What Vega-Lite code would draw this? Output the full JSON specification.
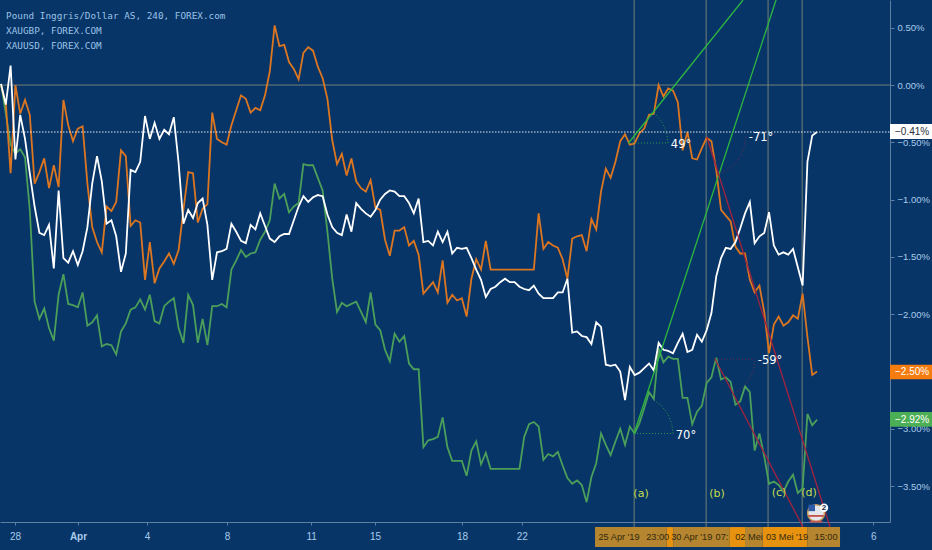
{"$schema":"https://vega.github.io/schema/vega-lite/v6.json","width":890,"height":522,"autosize":"none","padding":{"left":0,"top":0,"right":42,"bottom":28},"background":"#073568","view":{"stroke":null,"fill":"#073568"},
"encoding":{"x":{"field":"i","type":"quantitative","scale":{"domain":[-0.21,185.2],"nice":false,"zero":false},"axis":{"title":null,"grid":false,"orient":"bottom","values":[2.92,16.04,30.4,47.1,64.6,77.9,96.04,108.5,181.7],"labelExpr":"{'2.92':'28','16.04':'Apr','30.4':'4','47.1':'8','64.6':'11','77.9':'15','96.04':'18','108.5':'22','181.7':'6'}[''+datum.value]","labelColor":"#a9cbea","labelFontSize":10,"labelFont":"Liberation Sans","labelFontWeight":{"condition":{"test":"datum.value==16.04","value":"bold"},"value":"normal"},"labelPadding":6,"tickSize":3,"tickColor":"#5d7fa3","domainColor":"#5d7fa3","labelFlush":false,"labelOverlap":false,"labelBound":false}},
"y":{"field":"v","type":"quantitative","scale":{"domain":[-3.813,0.742],"nice":false,"zero":false},"axis":{"title":null,"grid":false,"orient":"right","values":[0.5,0,-0.5,-1,-1.5,-2,-2.5,-3,-3.5],"labelExpr":"replace(format(datum.value,'.2f'),'-','−')+'%'","labelColor":"#a9cbea","labelFontSize":9.5,"labelFont":"Liberation Sans","labelPadding":3,"tickSize":4,"tickColor":"#5d7fa3","domainColor":"#5d7fa3","labelOverlap":false,"labelBound":false}}},
"layer":[
{"data":{"values":[{"k":"a","i":131.9,"v":0.742},{"k":"a","i":131.9,"v":-3.857},{"k":"b","i":146.9,"v":0.742},{"k":"b","i":146.9,"v":-3.857},{"k":"c","i":159.8,"v":0.742},{"k":"c","i":159.8,"v":-3.857},{"k":"d","i":166.9,"v":0.742},{"k":"d","i":166.9,"v":-3.857},{"k":"zero","i":-0.21,"v":0},{"k":"zero","i":185.2,"v":0}]},"mark":{"type":"line","stroke":"#7f8a78","strokeWidth":0.9},"encoding":{"detail":{"field":"k"}}},
{"data":{"values":[
{"i":0,"white":0.01,"orange":0,"green":0.01},{"i":1,"white":-0.17,"orange":-0.16,"green":-0.25},{"i":2,"white":0.17,"orange":-0.77,"green":-0.52},{"i":3,"white":-0.65,"orange":0,"green":-0.6},{"i":4,"white":-0.26,"orange":-0.25,"green":-0.56},{"i":5,"white":-0.47,"orange":-0.13,"green":-0.63},{"i":6,"white":-0.77,"orange":-0.26,"green":-1.09},{"i":7,"white":-1.06,"orange":-0.86,"green":-1.89},{"i":8,"white":-1.29,"orange":-0.76,"green":-2.04},{"i":9,"white":-1.31,"orange":-0.64,"green":-1.95},
{"i":10,"white":-1.22,"orange":-0.9,"green":-2.12},{"i":11,"white":-1.6,"orange":-0.7,"green":-2.23},{"i":12,"white":-0.92,"orange":-0.89,"green":-1.83},{"i":13,"white":-1.51,"orange":-0.13,"green":-1.65},{"i":14,"white":-1.55,"orange":-0.35,"green":-1.91},{"i":15,"white":-1.45,"orange":-0.49,"green":-1.92},{"i":16,"white":-1.57,"orange":-0.38,"green":-1.94},{"i":17,"white":-1.45,"orange":-0.36,"green":-1.81},{"i":18,"white":-1.24,"orange":-0.86,"green":-2.1},{"i":19,"white":-0.86,"orange":-1.24,"green":-2.07},
{"i":20,"white":-0.62,"orange":-1.37,"green":-2.01},{"i":21,"white":-0.84,"orange":-1.46,"green":-2.28},{"i":22,"white":-1.21,"orange":-1.06,"green":-2.26},{"i":23,"white":-1.18,"orange":-1.1,"green":-2.27},{"i":24,"white":-1.32,"orange":-1.02,"green":-2.35},{"i":25,"white":-1.63,"orange":-0.57,"green":-2.15},{"i":26,"white":-1.47,"orange":-0.62,"green":-2.08},{"i":27,"white":-0.74,"orange":-1.23,"green":-1.96},{"i":28,"white":-0.76,"orange":-1.18,"green":-1.94},{"i":29,"white":-0.67,"orange":-1.2,"green":-1.87},
{"i":30,"white":-0.27,"orange":-1.7,"green":-1.96},{"i":31,"white":-0.47,"orange":-1.37,"green":-1.83},{"i":32,"white":-0.33,"orange":-1.73,"green":-2.06},{"i":33,"white":-0.47,"orange":-1.6,"green":-2.08},{"i":34,"white":-0.39,"orange":-1.54,"green":-1.93},{"i":35,"white":-0.43,"orange":-1.47,"green":-1.89},{"i":36,"white":-0.28,"orange":-1.56,"green":-1.86},{"i":37,"white":-0.68,"orange":-1.44,"green":-2.12},{"i":38,"white":-1.21,"orange":-1.09,"green":-2.25},{"i":39,"white":-1.09,"orange":-0.76,"green":-1.83},
{"i":40,"white":-1.16,"orange":-0.77,"green":-1.92},{"i":41,"white":-1.03,"orange":-1.2,"green":-2.25},{"i":42,"white":-0.99,"orange":-1.08,"green":-2.04},{"i":43,"white":-1.22,"orange":-1.04,"green":-2.27},{"i":44,"white":-1.7,"orange":-0.24,"green":-1.93},{"i":45,"white":-1.46,"orange":-0.47,"green":-1.93},{"i":46,"white":-1.45,"orange":-0.5,"green":-1.91},{"i":47,"white":-1.43,"orange":-0.52,"green":-1.94},{"i":48,"white":-1.21,"orange":-0.35,"green":-1.61},{"i":49,"white":-1.28,"orange":-0.22,"green":-1.53},
{"i":50,"white":-1.36,"orange":-0.09,"green":-1.44},{"i":51,"white":-1.38,"orange":-0.12,"green":-1.5},{"i":52,"white":-1.22,"orange":-0.24,"green":-1.47},{"i":53,"white":-1.26,"orange":-0.2,"green":-1.46},{"i":54,"white":-1.12,"orange":-0.22,"green":-1.35},{"i":55,"white":-1.23,"orange":-0.09,"green":-1.28},{"i":56,"white":-1.34,"orange":0.12,"green":-1.18},{"i":57,"white":-1.37,"orange":0.52,"green":-0.86},{"i":58,"white":-1.32,"orange":0.34,"green":-0.99},{"i":59,"white":-1.3,"orange":0.35,"green":-0.95},
{"i":60,"white":-1.3,"orange":0.2,"green":-1.11},{"i":61,"white":-1.18,"orange":0.14,"green":-1.06},{"i":62,"white":-1.06,"orange":0.05,"green":-1.03},{"i":63,"white":-0.97,"orange":0.28,"green":-0.69},{"i":64,"white":-1.02,"orange":0.33,"green":-0.7},{"i":65,"white":-0.98,"orange":0.3,"green":-0.7},{"i":66,"white":-0.96,"orange":0.16,"green":-0.81},{"i":67,"white":-0.97,"orange":0.06,"green":-0.92},{"i":68,"white":-1.13,"orange":-0.12,"green":-1.28},{"i":69,"white":-1.24,"orange":-0.48,"green":-1.69},
{"i":70,"white":-1.29,"orange":-0.69,"green":-1.98},{"i":71,"white":-1.31,"orange":-0.6,"green":-1.9},{"i":72,"white":-1.13,"orange":-0.79,"green":-1.93},{"i":73,"white":-1.28,"orange":-0.64,"green":-1.91},{"i":74,"white":-1.03,"orange":-0.84,"green":-1.89},{"i":75,"white":-1.08,"orange":-0.9,"green":-1.98},{"i":76,"white":-1.12,"orange":-0.93,"green":-2.07},{"i":77,"white":-1.15,"orange":-0.83,"green":-1.81},{"i":78,"white":-1.09,"orange":-1.07,"green":-2.09},{"i":79,"white":-1,"orange":-1.09,"green":-2.14},
{"i":80,"white":-0.95,"orange":-1.35,"green":-2.31},{"i":81,"white":-0.92,"orange":-1.49,"green":-2.41},{"i":82,"white":-0.93,"orange":-1.27,"green":-2.17},{"i":83,"white":-0.97,"orange":-1.27,"green":-2.24},{"i":84,"white":-0.97,"orange":-1.24,"green":-2.19},{"i":85,"white":-1.03,"orange":-1.4,"green":-2.43},{"i":86,"white":-1.12,"orange":-1.36,"green":-2.48},{"i":87,"white":-0.99,"orange":-1.48,"green":-2.48},{"i":88,"white":-1.37,"orange":-1.82,"green":-3.16},{"i":89,"white":-1.36,"orange":-1.77,"green":-3.1},
{"i":90,"white":-1.4,"orange":-1.72,"green":-3.09},{"i":91,"white":-1.28,"orange":-1.81,"green":-3.07},{"i":92,"white":-1.37,"orange":-1.53,"green":-2.9},{"i":93,"white":-1.28,"orange":-1.9,"green":-3.16},{"i":94,"white":-1.47,"orange":-1.83,"green":-3.28},{"i":95,"white":-1.42,"orange":-1.88,"green":-3.28},{"i":96,"white":-1.43,"orange":-1.86,"green":-3.28},{"i":97,"white":-1.42,"orange":-2.02,"green":-3.41},{"i":98,"white":-1.51,"orange":-1.69,"green":-3.19},{"i":99,"white":-1.61,"orange":-1.52,"green":-3.11},
{"i":100,"white":-1.7,"orange":-1.61,"green":-3.31},{"i":101,"white":-1.85,"orange":-1.36,"green":-3.21},{"i":102,"white":-1.78,"orange":-1.61,"green":-3.35},{"i":103,"white":-1.76,"orange":-1.61,"green":-3.35},{"i":104,"white":-1.72,"orange":-1.61,"green":-3.35},{"i":105,"white":-1.69,"orange":-1.61,"green":-3.35},{"i":106,"white":-1.72,"orange":-1.61,"green":-3.35},{"i":107,"white":-1.72,"orange":-1.61,"green":-3.35},{"i":108,"white":-1.76,"orange":-1.61,"green":-3.35},{"i":109,"white":-1.78,"orange":-1.61,"green":-3.07},
{"i":110,"white":-1.79,"orange":-1.61,"green":-2.96},{"i":111,"white":-1.75,"orange":-1.61,"green":-2.94},{"i":112,"white":-1.82,"orange":-1.12,"green":-2.98},{"i":113,"white":-1.86,"orange":-1.43,"green":-3.27},{"i":114,"white":-1.86,"orange":-1.37,"green":-3.22},{"i":115,"white":-1.86,"orange":-1.4,"green":-3.24},{"i":116,"white":-1.81,"orange":-1.42,"green":-3.2},{"i":117,"white":-1.81,"orange":-1.52,"green":-3.32},{"i":118,"white":-1.69,"orange":-1.69,"green":-3.43},{"i":119,"white":-2.16,"orange":-1.34,"green":-3.48},
{"i":120,"white":-2.15,"orange":-1.32,"green":-3.45},{"i":121,"white":-2.19,"orange":-1.31,"green":-3.49},{"i":122,"white":-2.2,"orange":-1.45,"green":-3.64},{"i":123,"white":-2.26,"orange":-1.17,"green":-3.42},{"i":124,"white":-2.07,"orange":-1.26,"green":-3.3},{"i":125,"white":-2.11,"orange":-0.93,"green":-3.04},{"i":126,"white":-2.44,"orange":-0.73,"green":-3.14},{"i":127,"white":-2.45,"orange":-0.81,"green":-3.23},{"i":128,"white":-2.44,"orange":-0.67,"green":-3.11},{"i":129,"white":-2.5,"orange":-0.49,"green":-3},
{"i":130,"white":-2.75,"orange":-0.43,"green":-3.14},{"i":131,"white":-2.46,"orange":-0.52,"green":-2.98},{"i":132,"white":-2.53,"orange":-0.51,"green":-3.04},{"i":133,"white":-2.51,"orange":-0.42,"green":-2.95},{"i":134,"white":-2.47,"orange":-0.38,"green":-2.82},{"i":135,"white":-2.43,"orange":-0.26,"green":-2.68},{"i":136,"white":-2.49,"orange":-0.25,"green":-2.74},{"i":137,"white":-2.25,"orange":0,"green":-2.3},{"i":138,"white":-2.31,"orange":-0.1,"green":-2.42},{"i":139,"white":-2.32,"orange":-0.03,"green":-2.37},
{"i":140,"white":-2.34,"orange":-0.05,"green":-2.39},{"i":141,"white":-2.25,"orange":-0.15,"green":-2.39},{"i":142,"white":-2.17,"orange":-0.57,"green":-2.73},{"i":143,"white":-2.33,"orange":-0.41,"green":-2.73},{"i":144,"white":-2.31,"orange":-0.64,"green":-2.96},{"i":145,"white":-2.18,"orange":-0.65,"green":-2.85},{"i":146,"white":-2.24,"orange":-0.55,"green":-2.8},{"i":147,"white":-2.14,"orange":-0.46,"green":-2.6},{"i":148,"white":-1.99,"orange":-0.49,"green":-2.55},{"i":149,"white":-1.67,"orange":-0.74,"green":-2.38},
{"i":150,"white":-1.51,"orange":-1.09,"green":-2.57},{"i":151,"white":-1.42,"orange":-1.14,"green":-2.55},{"i":152,"white":-1.43,"orange":-1.19,"green":-2.59},{"i":153,"white":-1.37,"orange":-1.41,"green":-2.79},{"i":154,"white":-1.25,"orange":-1.47,"green":-2.76},{"i":155,"white":-1.12,"orange":-1.47,"green":-2.63},{"i":156,"white":-1.02,"orange":-1.7,"green":-2.68},{"i":157,"white":-1.38,"orange":-1.81,"green":-3.19},{"i":158,"white":-1.32,"orange":-1.75,"green":-3.04},{"i":159,"white":-1.29,"orange":-1.98,"green":-3.24},
{"i":160,"white":-1.11,"orange":-2.34,"green":-3.48},{"i":161,"white":-1.4,"orange":-2.09,"green":-3.46},{"i":162,"white":-1.48,"orange":-2.02,"green":-3.49},{"i":163,"white":-1.46,"orange":-2.1,"green":-3.55},{"i":164,"white":-1.48,"orange":-2.07,"green":-3.46},{"i":165,"white":-1.43,"orange":-2.01,"green":-3.4},{"i":166,"white":-1.59,"orange":-2.04,"green":-3.56},{"i":167,"white":-1.75,"orange":-1.82,"green":-3.52},{"i":168,"white":-0.67,"orange":-2.2,"green":-2.87},{"i":169,"white":-0.44,"orange":-2.53,"green":-2.97},{"i":170,"white":-0.41,"orange":-2.5,"green":-2.92}
]},"transform":[{"fold":["green","orange","white"],"as":["s","v"]}],"mark":{"type":"line","strokeJoin":"miter"},"encoding":{"detail":{"field":"s"},"color":{"field":"s","type":"nominal","legend":null,"scale":{"domain":["green","orange","white"],"range":["#4b9f5a","#dc7620","#ffffff"]}},"strokeWidth":{"field":"s","type":"nominal","legend":null,"scale":{"domain":["green","orange","white"],"range":[1.8,1.8,3]}}}},
{"data":{"values":[{"i":-0.21,"v":-0.41},{"i":185.2,"v":-0.41}]},"mark":{"type":"line","stroke":"#ffffff","strokeWidth":0.9,"strokeDash":[1.5,1.5]}},
{"data":{"values":[{"k":"t1","i":130.73,"v":-0.506},{"k":"t1","i":154.58,"v":0.742},{"k":"t2","i":131.88,"v":-3.041},{"k":"t2","i":161.46,"v":0.742}]},"mark":{"type":"line","stroke":"#2cb83f","strokeWidth":1.3},"encoding":{"detail":{"field":"k"}}},
{"data":{"values":[{"k":"r1","i":147.02,"v":-0.451},{"k":"r1","i":172.7,"v":-3.857},{"k":"r2","i":148.75,"v":-2.391},{"k":"r2","i":167.08,"v":-3.857}]},"mark":{"type":"line","stroke":"#a3223f","strokeWidth":1.3},"encoding":{"detail":{"field":"k"}}},
{"data":{"values":[{"k":"b1","i":130.83,"v":-0.506},{"k":"b1","i":138.96,"v":-0.506},{"k":"b1","i":138.69,"v":-0.419},{"k":"b1","i":137.88,"v":-0.336},{"k":"b1","i":136.58,"v":-0.265},{"k":"b1","i":135.83,"v":-0.236},{"k":"b2","i":131.88,"v":-3.041},{"k":"b2","i":140,"v":-3.041},{"k":"b2","i":139.73,"v":-2.953},{"k":"b2","i":138.92,"v":-2.871},{"k":"b2","i":137.63,"v":-2.8},{"k":"b2","i":135.94,"v":-2.746}]},"mark":{"type":"line","stroke":"#2a9a4a","strokeWidth":1,"strokeDash":[1,2],"interpolate":"linear"},"encoding":{"detail":{"field":"k"},"order":{"field":"n"}}},
{"data":{"values":[{"k":"c1","i":155.15,"v":-0.451},{"k":"c1","i":154.88,"v":-0.539},{"k":"c1","i":154.06,"v":-0.621},{"k":"c1","i":152.77,"v":-0.692},{"k":"c1","i":151.08,"v":-0.746},{"k":"c1","i":149.67,"v":-0.773},{"k":"c2","i":148.75,"v":-2.391},{"k":"c2","i":157.08,"v":-2.391},{"k":"c2","i":156.79,"v":-2.478},{"k":"c2","i":155.96,"v":-2.565},{"k":"c2","i":154.65,"v":-2.635},{"k":"c2","i":153.04,"v":-2.688}]},"mark":{"type":"line","stroke":"#6e2a50","strokeWidth":1,"strokeDash":[1,2]},"encoding":{"detail":{"field":"k"},"order":{"field":"n"}}},
{"data":{"values":[{"i":123.75,"i2":138.69,"v":-3.857,"v2":-4.031},{"i":140.06,"i2":151.73,"v":-3.857,"v2":-4.031},{"i":155,"i2":158.69,"v":-3.857,"v2":-4.031},{"i":167.98,"i2":174.79,"v":-3.857,"v2":-4.031}]},"mark":{"type":"rect","fill":"#b5862f","clip":false},"encoding":{"x2":{"field":"i2"},"y2":{"field":"v2"}}},
{"data":{"values":[{"i":138.69,"i2":140.06,"v":-3.857,"v2":-4.031},{"i":151.73,"i2":155,"v":-3.857,"v2":-4.031},{"i":158.69,"i2":167.98,"v":-3.857,"v2":-4.031}]},"mark":{"type":"rect","fill":"#e8930f","clip":false},"encoding":{"x2":{"field":"i2"},"y2":{"field":"v2"}}},
{"data":{"values":[{"i":128.75,"v":-3.944,"t":"25 Apr '19"},{"i":136.8,"v":-3.944,"t":"23:00"},{"i":143.9,"v":-3.944,"t":"30 Apr '19"},{"i":150.2,"v":-3.944,"t":"07:"},{"i":155.83,"v":-3.944,"t":"02 Mei"},{"i":163.75,"v":-3.944,"t":"03 Mei '19"},{"i":171.875,"v":-3.944,"t":"15:00"}]},"mark":{"type":"text","color":"#33290f","fontSize":9.2,"font":"Liberation Sans","align":"center","baseline":"middle"},"encoding":{"text":{"field":"t"}}},
{"data":{"values":[{"i":1.04,"v":0.602,"t":"Pound Inggris/Dollar AS, 240, FOREX.com"},{"i":1.04,"v":0.471,"t":"XAUGBP, FOREX.COM"},{"i":1.04,"v":0.34,"t":"XAUUSD, FOREX.COM"}]},"mark":{"type":"text","color":"#9cc3e6","fontSize":9.35,"font":"DejaVu Sans Mono","align":"left","baseline":"middle"},"encoding":{"text":{"field":"t"}}},
{"data":{"values":[{"i":142.7,"v":-3.063,"t":"70°"},{"i":141.67,"v":-0.524,"t":"49°"},{"i":158.33,"v":-0.462,"t":"-71°"},{"i":160.2,"v":-2.408,"t":"-59°"}]},"mark":{"type":"text","color":"#ffffff","fontSize":11.5,"font":"DejaVu Sans","align":"center","baseline":"middle"},"encoding":{"text":{"field":"t"}}},
{"data":{"values":[{"i":133.33,"v":-3.569,"t":"(a)"},{"i":149.17,"v":-3.569,"t":"(b)"},{"i":162.08,"v":-3.56,"t":"(c)"},{"i":168.33,"v":-3.56,"t":"(d)"}]},"mark":{"type":"text","color":"#c6de4a","fontSize":11,"font":"DejaVu Sans","align":"center","baseline":"middle"},"encoding":{"text":{"field":"t"}}},
{"data":{"values":[{"i":169.8,"v":-3.735}]},"mark":{"type":"point","filled":true,"fill":"#e4e6ee","stroke":"#c9a05f","strokeWidth":1.5,"opacity":1,"size":284,"clip":false}},
{"data":{"values":[{"k":"s1","i":168.2,"v":-3.76},{"k":"s1","i":171.4,"v":-3.76},{"k":"s2","i":168.5,"v":-3.81},{"k":"s2","i":171.1,"v":-3.81}]},"mark":{"type":"line","stroke":"#c8504a","strokeWidth":1.8,"clip":false},"encoding":{"detail":{"field":"k"}}},
{"data":{"values":[{"i":168.9,"v":-3.69}]},"mark":{"type":"square","fill":"#2f5aa8","opacity":1,"size":42}},
{"data":{"values":[{"i":171.46,"v":-3.689}]},"mark":{"type":"point","filled":true,"fill":"#ffffff","opacity":1,"size":70}},
{"data":{"values":[{"i":171.46,"v":-3.689,"t":"2"}]},"mark":{"type":"text","color":"#1a2a44","fontSize":8,"fontWeight":"bold","font":"Liberation Sans","align":"center","baseline":"middle"},"encoding":{"text":{"field":"t"}}},
{"data":{"values":[{"i":185.2,"i2":194,"v":-0.34,"v2":-0.471}]},"mark":{"type":"rect","fill":"#ffffff","clip":false},"encoding":{"x2":{"field":"i2"},"y2":{"field":"v2"}}},
{"data":{"values":[{"i":185.2,"i2":194,"v":-2.44,"v2":-2.568}]},"mark":{"type":"rect","fill":"#f57c0f","clip":false},"encoding":{"x2":{"field":"i2"},"y2":{"field":"v2"}}},
{"data":{"values":[{"i":185.2,"i2":194,"v":-2.853,"v2":-2.982}]},"mark":{"type":"rect","fill":"#4caf55","clip":false},"encoding":{"x2":{"field":"i2"},"y2":{"field":"v2"}}},
{"data":{"values":[{"i":189.8,"v":-0.41,"t":"−0.41%"}]},"mark":{"type":"text","color":"#2a2e39","fontSize":10,"font":"Liberation Sans","align":"center","baseline":"middle","clip":false},"encoding":{"text":{"field":"t"}}},
{"data":{"values":[{"i":189.8,"v":-2.504,"t":"−2.50%"},{"i":189.8,"v":-2.92,"t":"−2.92%"}]},"mark":{"type":"text","color":"#ffffff","fontSize":10,"font":"Liberation Sans","align":"center","baseline":"middle","clip":false},"encoding":{"text":{"field":"t"}}}
]}
